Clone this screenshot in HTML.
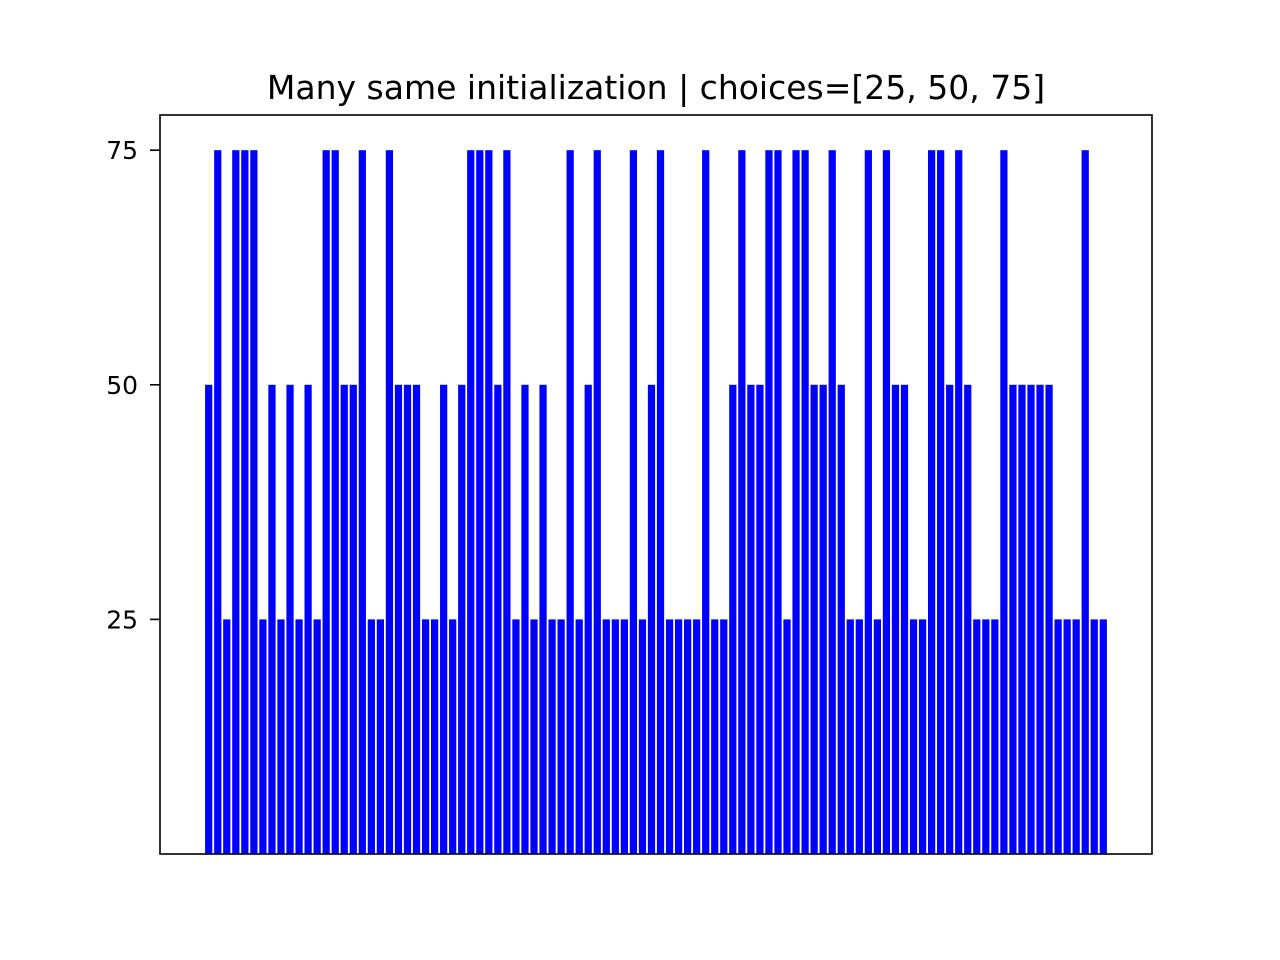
<!DOCTYPE html>
<html><head><meta charset="utf-8"><style>
html,body{margin:0;padding:0;background:#fff;}
svg{display:block;font-family:"DejaVu Sans","Liberation Sans",sans-serif;}
</style></head><body>
<svg id="chart" width="1280" height="960" viewBox="0 0 1280 960">
<rect x="0" y="0" width="1280" height="960" fill="#fff"/>
<text x="656" y="99" font-size="33" text-anchor="middle" fill="#000">Many same initialization | choices=[25, 50, 75]</text>
<g id="bars"></g>
<g id="yticks"></g>
<rect x="160" y="115" width="992" height="739" fill="none" stroke="#000" stroke-width="1.6"/>
</svg>
<script>
const values = [50,75,25,75,75,75,25,50,25,50,25,50,25,75,75,50,50,75,25,25,
75,50,50,50,25,25,50,25,50,75,75,75,50,75,25,50,25,50,25,25,
75,25,50,75,25,25,25,75,25,50,75,25,25,25,25,75,25,25,50,75,
50,50,75,75,25,75,75,50,50,75,50,25,25,75,25,75,50,50,25,25,
75,75,50,75,50,25,25,25,75,50,50,50,50,50,25,25,25,75,25,25];
const yTicks = [25,50,75];
const yTickLabels = ["25","50","75"];

const L=160,R=1152,T=115,B=854;
const n=values.length;
const xmin=-0.4-0.05*(n-1+0.8), xmax=n-1+0.4+0.05*(n-1+0.8);
const ymax=78.75;
const xs=v=>L+(v-xmin)/(xmax-xmin)*(R-L);
const ys=v=>B-v/ymax*(B-T);
const NS="http://www.w3.org/2000/svg";
const gb=document.getElementById('bars');
values.forEach((v,i)=>{
  const r=document.createElementNS(NS,'rect');
  const x0=xs(i-0.4),x1=xs(i+0.4);
  r.setAttribute('x',x0);r.setAttribute('width',x1-x0);
  r.setAttribute('y',ys(v));r.setAttribute('height',ys(0)-ys(v));
  r.setAttribute('fill','#0000ff');
  
  
  gb.appendChild(r);
});
const gy=document.getElementById('yticks');
yTicks.forEach((t,i)=>{
  const y=ys(t);
  const l=document.createElementNS(NS,'line');
  l.setAttribute('x1',L-10);l.setAttribute('x2',L);l.setAttribute('y1',y);l.setAttribute('y2',y);
  l.setAttribute('stroke','#000');l.setAttribute('stroke-width','1.6');
  
  
  gy.appendChild(l);
  const tx=document.createElementNS(NS,'text');
  tx.setAttribute('x',L-22);tx.setAttribute('y',y+9);
  tx.setAttribute('text-anchor','end');tx.setAttribute('font-size','25');
  tx.textContent=yTickLabels[i];
  
  
  gy.appendChild(tx);
});
</script>
</body></html>
